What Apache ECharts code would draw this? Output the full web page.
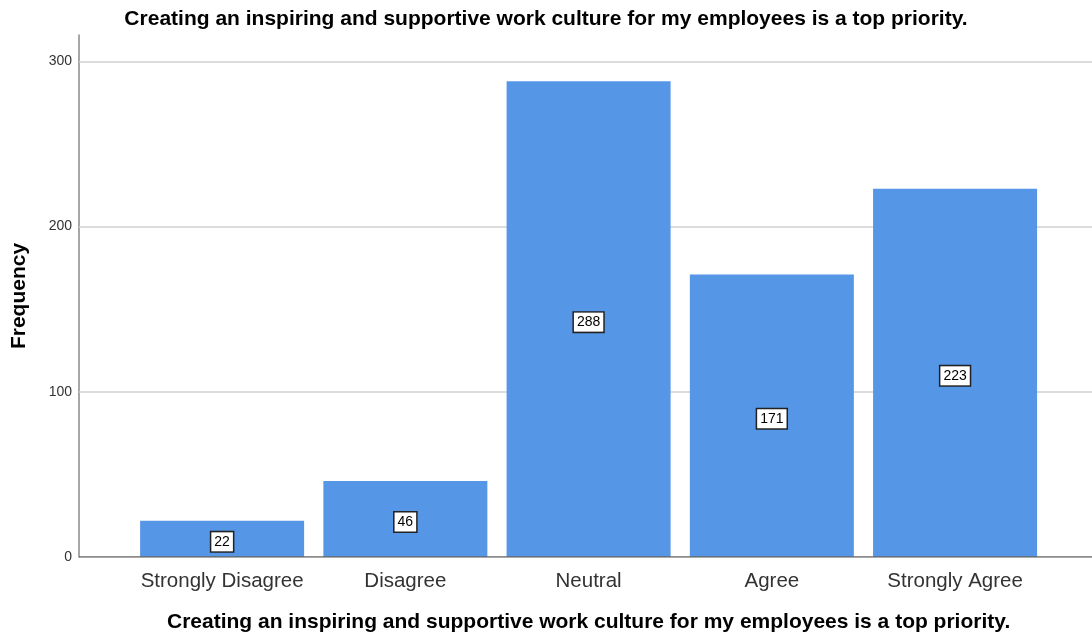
<!DOCTYPE html>
<html>
<head>
<meta charset="utf-8">
<script src="https://cdn.jsdelivr.net/npm/echarts@6/dist/echarts.min.js"></script>
<style>
  html, body { margin: 0; padding: 0; background: #fff; }
  #chart { width: 1092px; height: 635px; }
</style>
</head>
<body>
<div id="chart"></div>
<script>
const categories = ['Strongly Disagree', 'Disagree', 'Neutral', 'Agree', 'Strongly Agree'];
const frequencies = [22, 46, 288, 171, 223];
const yTicks = [0, 100, 200, 300];

const titleText = 'Creating an inspiring and supportive work culture for my employees is a top priority.';
const yMax = 316;
const font = 'Arial, "Liberation Sans", sans-serif';

const chart = echarts.init(document.getElementById('chart'));
chart.setOption({
  animation: false,
  title: {
    text: titleText,
    left: 'center',
    top: 4,
    textStyle: { fontFamily: font, fontSize: 21, fontWeight: 'bold', color: '#000' }
  },
  grid: [
    { left: 79, right: 0, top: 35, bottom: 78, outerBoundsMode: 'none', containLabel: false },
    { left: 130.5, right: 45.3, top: 35, bottom: 78, outerBoundsMode: 'none', containLabel: false }
  ],
  xAxis: [
    {
      gridIndex: 0, type: 'value', min: 0, max: 1,
      axisLine: { show: false }, axisTick: { show: false },
      axisLabel: { show: false }, splitLine: { show: false }
    },
    {
      gridIndex: 1, type: 'category', data: categories,
      name: titleText, nameLocation: 'middle', nameGap: 55,
      nameTextStyle: { fontFamily: font, fontSize: 21, fontWeight: 'bold', color: '#000' },
      axisLine: { show: false }, axisTick: { show: false },
      axisLabel: { interval: 0, fontFamily: font, fontSize: 20.5, color: '#333', margin: 14 }
    }
  ],
  yAxis: [
    {
      gridIndex: 0, type: 'value', min: 0, max: yMax, interval: 100,
      name: 'Frequency', nameLocation: 'middle', nameGap: 49,
      nameTextStyle: { fontFamily: font, fontSize: 21, fontWeight: 'bold', color: '#000' },
      axisLine: { show: true, lineStyle: { color: '#8a8a8a', width: 1.5 } },
      axisTick: { show: false },
      axisLabel: {
        fontFamily: font, fontSize: 14, color: '#333', margin: 7,
        formatter: v => (yTicks.includes(v) ? String(v) : '')
      },
      splitLine: { show: false }
    },
    {
      gridIndex: 1, type: 'value', min: 0, max: yMax,
      axisLine: { show: false }, axisTick: { show: false },
      axisLabel: { show: false }, splitLine: { show: false }
    }
  ],
  series: [
    {
      // bottom axis line across the full plot width, plus horizontal grid lines at the ticks
      type: 'line', xAxisIndex: 0, yAxisIndex: 0,
      data: [[0, 0], [1, 0]], symbol: 'none', silent: true,
      lineStyle: { color: '#666', width: 1.5 }, z: 5,
      markLine: {
        silent: true, symbol: 'none', label: { show: false }, z: 1,
        lineStyle: { color: '#d0d0d0', width: 1.5, type: 'solid' },
        data: yTicks.filter(v => v > 0).map(v => ({ yAxis: v }))
      }
    },
    {
      type: 'bar', xAxisIndex: 1, yAxisIndex: 1,
      data: frequencies,
      barCategoryGap: '10.5%',
      itemStyle: { color: '#5596e6' },
      z: 3,
      label: {
        show: true, position: 'inside', offset: [0, 3],
        fontFamily: font, fontSize: 14, color: '#000',
        backgroundColor: '#fff', borderColor: '#222', borderWidth: 1.5,
        padding: [3, 3, 2, 3]
      }
    }
  ]
});
</script>
</body>
</html>
